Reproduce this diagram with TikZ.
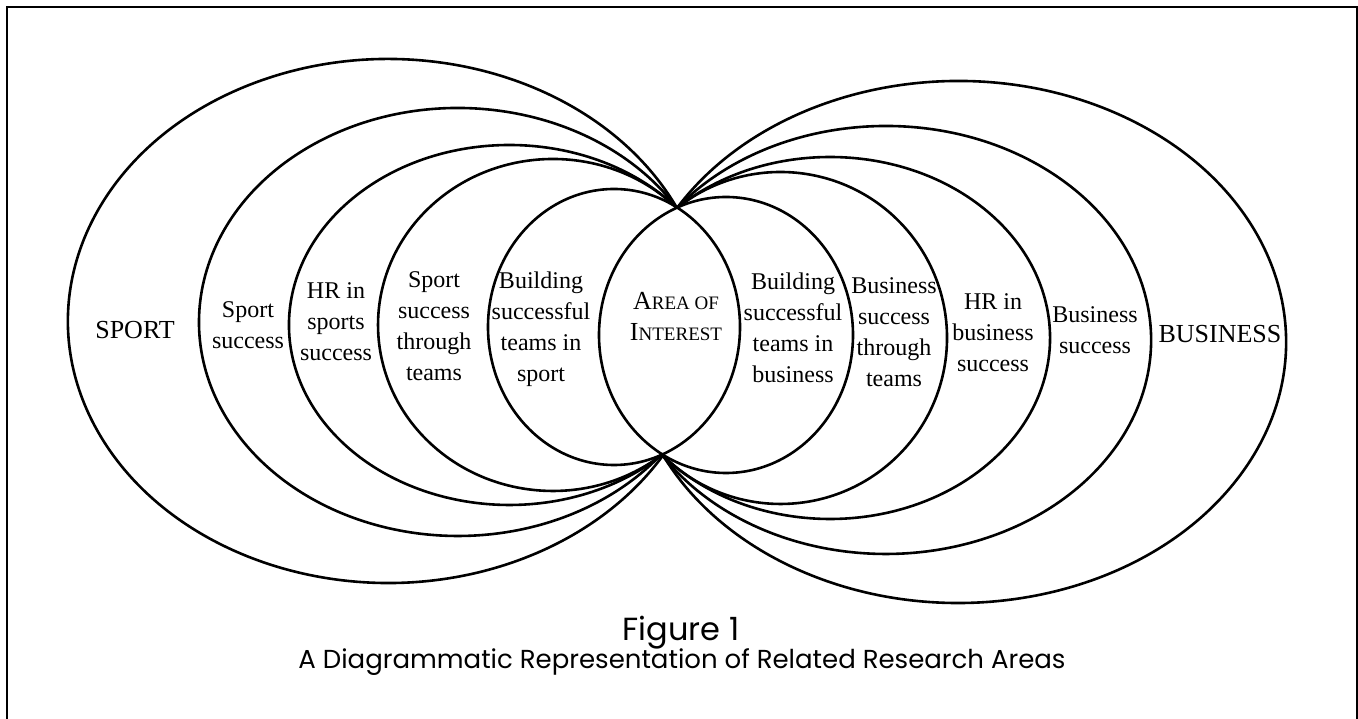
\documentclass[tikz,border=0pt]{standalone}
\usepackage{fontspec}
\setmainfont{Liberation Serif}
\newfontfamily\capfont{Poppins}
% big initial, smaller rest: fake small caps
\newcommand{\scword}[2]{{\fontsize{26}{31}\selectfont #1}{\fontsize{19}{31}\selectfont #2}}
\begin{document}
\begin{tikzpicture}
		[x=1pt, y=1pt,
		ring/.style={line width=2.6pt},
		area/.style={align=center, inner sep=0pt, font=\fontsize{24}{31}\selectfont},
		field/.style={inner sep=0pt, font=\fontsize{26}{30}\selectfont}]
		\useasboundingbox (0,0) rectangle (1358,719);
		\draw[line width=2.4pt] (7,-20) rectangle (1357,712);
		% all rings run through these two points
		\coordinate (pinchN) at (677,511);
		\coordinate (pinchS) at (662,265);
		% sport side, outermost first
		\draw[ring] (pinchN) arc[start angle=25.55, end angle=329.50, x radius=320.2, y radius=262];
		\draw[ring] (pinchN) arc[start angle=32.19, end angle=321.92, x radius=258.9, y radius=214];
		\draw[ring] (pinchN) arc[start angle=40.54, end angle=314.22, x radius=220.5, y radius=180];
		\draw[ring] (pinchN) arc[start angle=44.81, end angle=309.00, x radius=174.9, y radius=166];
		% the two inner rings overlap
		\draw[ring] (614,392) ellipse [x radius=126, y radius=138];
		\draw[ring] (726,384) ellipse [x radius=127, y radius=138];
		% business side
		\draw[ring] (pinchN) arc[start angle=128.45, end angle=-135.67, x radius=166.5, y radius=166];
		\draw[ring] (pinchN) arc[start angle=134.09, end angle=-140.14, x radius=220.0, y radius=181];
		\draw[ring] (pinchN) arc[start angle=141.92, end angle=-147.81, x radius=265.3, y radius=214];
		\draw[ring] (pinchN) arc[start angle=149.11, end angle=-154.59, x radius=327.8, y radius=261];
		% labels
		\node[field] (sport) at (135,389) {SPORT};
		\node[area] (sportsuccess) at (248,394) {Sport\\success};
		\node[area] (hrsport) at (336,397) {HR in\\sports\\success};
		\node[area] (sportteams) at (434,393) {Sport\\success\\through\\teams};
		\node[area] (buildsport) at (541,390) {Building\\successful\\teams in\\sport};
		\node[align=center, inner sep=0pt, font=\fontsize{26}{31}\selectfont] (interest) at (676,402)
			{\scword{A}{REA OF}\\\scword{I}{NTEREST}};
		\node[area] (buildbusiness) at (793,391) {Building\\successful\\teams in\\business};
		\node[area] (businessteams) at (894,387) {Business\\success\\through\\teams};
		\node[area] (hrbusiness) at (993,386) {HR in\\business\\success};
		\node[area] (businesssuccess) at (1095,389) {Business\\success};
		\node[field] (business) at (1220,385) {BUSINESS};
		% caption
		\node[font=\capfont\fontsize{32}{36}\selectfont] (figtitle) at (681,86) {Figure 1};
		\node[font=\capfont\fontsize{26}{30}\selectfont] (figcaption) at (682,57)
			{A Diagrammatic Representation of Related Research Areas};
	\end{tikzpicture}
\end{document}
